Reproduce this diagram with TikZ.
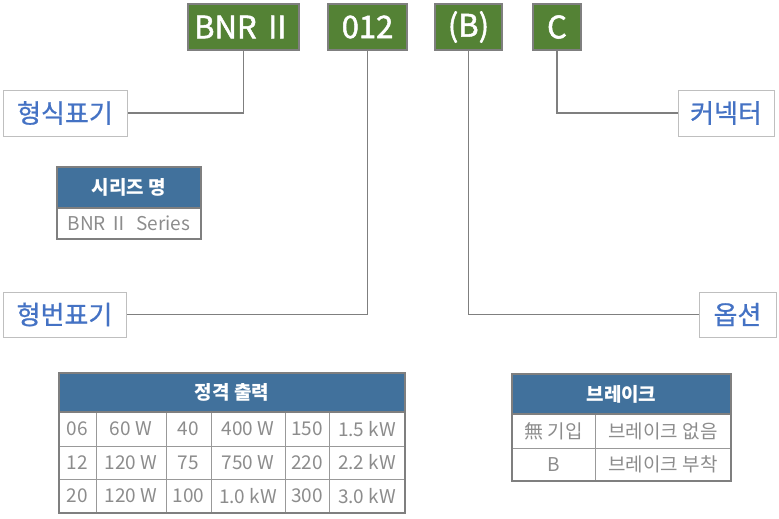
\documentclass[tikz,border=0pt]{standalone}
\usepackage{fontspec}
\setmainfont{Noto Sans CJK KR}
\newfontfamily\codefont[FakeBold=1.6]{Noto Sans CJK KR}
\newfontfamily\labfont[FakeBold=0.8]{Noto Sans CJK KR}
\definecolor{codegreen}{HTML}{548235}
\definecolor{boxgrey}{HTML}{7F7F7F}
\definecolor{labblue}{HTML}{4472C4}
\definecolor{labborder}{HTML}{BFBFBF}
\definecolor{headblue}{HTML}{41719C}
\definecolor{cellgrey}{HTML}{8C8C8C}
\definecolor{gridgrey}{HTML}{999999}
\begin{document}
\begin{tikzpicture}[x=1pt,y=-1pt,
  codebox/.style={draw=boxgrey, line width=1.5pt, fill=codegreen, text=white,
    font=\codefont\fontsize{31}{34}\selectfont, inner sep=0pt, minimum height=46pt},
  labbox/.style={draw=labborder, line width=1pt, fill=white, text=labblue,
    font=\labfont\fontsize{26}{30}\selectfont, inner sep=0pt, minimum height=46pt},
  conn/.style={draw=boxgrey, line width=1.5pt},
  headtxt/.style={text=white, font=\bfseries\fontsize{19}{22}\selectfont, inner sep=0pt},
  celltxt/.style={text=cellgrey, font=\fontsize{19}{22}\selectfont, inner sep=0pt},
  tabline/.style={draw=gridgrey, line width=1pt},
  tabframe/.style={draw=boxgrey, line width=1.2pt}
]
\useasboundingbox (0,0) rectangle (779,519);

% code boxes
\node[codebox, minimum width=111pt] (bnr) at (243.5,27) {BNR\,Ⅱ};
\node[codebox, minimum width=79pt] (num) at (367.5,27) {012};
\node[codebox, minimum width=67pt] (opt) at (468.5,27) {(B)};
\node[codebox, minimum width=48pt] (cc) at (557,27) {C};

% labels
\node[labbox, minimum width=124pt] (lab1) at (65,113) {형식표기};
\node[labbox, minimum width=96pt] (lab3) at (726,113) {커넥터};
\node[labbox, minimum width=123pt, minimum height=45pt] (lab2) at (64.5,314.5) {형번표기};
\node[labbox, minimum width=77pt, minimum height=45pt] (lab4) at (737.5,314.5) {옵션};

% connectors
\draw[conn] (bnr.south) |- (lab1.east);
\draw[conn] (num.south) |- (lab2.east);
\draw[conn] (opt.south) |- (lab4.west);
\draw[conn] (cc.south) |- (lab3.west);

% series table
\fill[headblue] (57,167) rectangle (201,208);
\draw[tabframe] (57,208) -- (201,208);
\draw[tabframe] (57,167) rectangle (201,239);
\node[headtxt] (sh) at (129,187.5) {시리즈 명};
\node[celltxt] (sb) at (129,223.5) {BNR\,Ⅱ\ \ Series};

% rating table
\fill[headblue] (59,373) rectangle (405,412);
\foreach \y in {446,479} \draw[tabline] (59,\y) -- (405,\y);
\foreach \x in {96,166,211,285,329} \draw[tabline] (\x,412) -- (\x,513);
\draw[tabframe] (59,412) -- (405,412);
\draw[tabframe] (59,373) rectangle (405,513);
\node[headtxt] (rh) at (232,392.5) {정격 출력};
\node[celltxt] (r11) at (77.5,429) {06};
\node[celltxt] (r12) at (131,429) {60 W};
\node[celltxt] (r13) at (188.5,429) {40};
\node[celltxt] (r14) at (248,429) {400 W};
\node[celltxt] (r15) at (307,429) {150};
\node[celltxt] (r16) at (367,429) {1.5 kW};
\node[celltxt] (r21) at (77.5,462.5) {12};
\node[celltxt] (r22) at (131,462.5) {120 W};
\node[celltxt] (r23) at (188.5,462.5) {75};
\node[celltxt] (r24) at (248,462.5) {750 W};
\node[celltxt] (r25) at (307,462.5) {220};
\node[celltxt] (r26) at (367,462.5) {2.2 kW};
\node[celltxt] (r31) at (77.5,496) {20};
\node[celltxt] (r32) at (131,496) {120 W};
\node[celltxt] (r33) at (188.5,496) {100};
\node[celltxt] (r34) at (248,496) {1.0 kW};
\node[celltxt] (r35) at (307,496) {300};
\node[celltxt] (r36) at (367,496) {3.0 kW};

% brake table
\fill[headblue] (512,374) rectangle (731,414);
\draw[tabline] (512,448) -- (731,448);
\draw[tabline] (595,414) -- (595,481);
\draw[tabframe] (512,414) -- (731,414);
\draw[tabframe] (512,374) rectangle (731,481);
\node[headtxt] (bh) at (621.5,394) {브레이크};
\node[celltxt] (b11) at (553.5,431) {無 기입};
\node[celltxt] (b12) at (663,431) {브레이크 없음};
\node[celltxt] (b21) at (553.5,464.5) {B};
\node[celltxt] (b22) at (663,464.5) {브레이크 부착};
\end{tikzpicture}
\end{document}
